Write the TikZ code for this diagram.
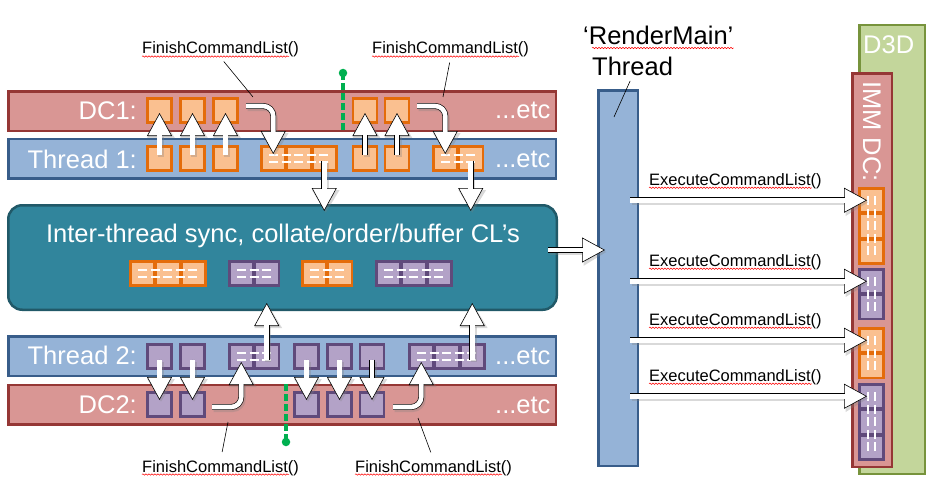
\documentclass[tikz,border=0pt]{standalone}
\usepackage{fontspec}
\setmainfont{Liberation Sans}
\usetikzlibrary{arrows.meta, calc, decorations.pathmorphing}

\definecolor{dcfill}{HTML}{D99694}
\definecolor{dcline}{HTML}{953735}
\definecolor{thfill}{HTML}{95B3D7}
\definecolor{thline}{HTML}{385D8A}
\definecolor{syncfill}{HTML}{31859C}
\definecolor{syncline}{HTML}{215968}
\definecolor{orfill}{HTML}{FAC090}
\definecolor{orline}{HTML}{E46C0A}
\definecolor{pufill}{HTML}{B3A2C7}
\definecolor{puline}{HTML}{604A7B}
\definecolor{dxfill}{HTML}{C3D69B}
\definecolor{dxline}{HTML}{77933C}
\definecolor{marker}{HTML}{00B050}

\newcommand{\barfont}{\fontsize{25.5}{30}\selectfont}
\newcommand{\lblfont}{\fontsize{16.5}{20}\selectfont}

% row / column of command list cells with the white marks on top
\newcommand{\hblock}[5]{%
  \foreach \k in {1,...,#5}
    \node[#2] (#1\k) at ({#3+13.25+(\k-1)*25.5},#4) {};
  \foreach \d in {-3.5,3.5}
    \draw[cldash] ([xshift=9pt,yshift=\d pt]#11.west) -- ([xshift=-9pt,yshift=\d pt]#1#5.east);
}
\newcommand{\vblock}[5]{%
  \foreach \k in {1,...,#5}
    \node[#2] (#1\k) at (#3,{#4+13.25+(\k-1)*25.5}) {};
  \foreach \d in {-3.5,3.5}
    \draw[cldash] ([yshift=-9pt,xshift=\d pt]#11.north) -- ([yshift=9pt,xshift=\d pt]#1#5.south);
}

\tikzset{
  dcbar/.style={draw=dcline, fill=dcfill, line width=2.5pt, minimum width=547.5pt, minimum height=39.5pt, inner sep=0pt},
  thbar/.style={dcbar, draw=thline, fill=thfill},
  syncbox/.style={draw=syncline, fill=syncfill, line width=2.5pt, rounded corners=14pt, minimum width=548.5pt, minimum height=104.5pt},
  rmbar/.style={draw=thline, fill=thfill, line width=2.5pt, minimum width=39.5pt, minimum height=375.5pt},
  dxbox/.style={draw=dxline, fill=dxfill, line width=2.5pt, minimum width=65.5pt, minimum height=448.5pt},
  immbox/.style={draw=dcline, fill=dcfill, line width=2.5pt, minimum width=39.5pt, minimum height=393.5pt},
  orcell/.style={draw=orline, fill=orfill, line width=2.5pt, minimum size=24pt, inner sep=0pt},
  pucell/.style={orcell, draw=puline, fill=pufill},
  cldash/.style={white, line width=2.2pt, dash pattern=on 9pt off 3.5pt},
  bartext/.style={text=white, font=\barfont, inner sep=0pt},
  lbl/.style={font=\lblfont, inner sep=0pt},
  leader/.style={draw=black, line width=0.6pt},
  squig/.style={draw=red, line width=0.5pt, decorate, decoration={snake, amplitude=0.7pt, segment length=3pt}},
  blockarr/.style={draw=black, line width=0.6pt,
    arrows={-Triangle[length=23pt,width=25pt,fill=white,line width=0.6pt]},
    preaction={draw=black!50, opacity=0.3, line width=6pt, arrows={-Triangle[length=23pt,width=26pt]},
      transform canvas={shift={(1.5pt,-2pt)}}},
    postaction={draw=black, double=white, double distance=4.6pt, line width=0.6pt, arrows=-, shorten >=22.2pt}},
  syncmark/.style={draw=marker, line width=3.5pt, dash pattern=on 7pt off 3pt},
  markdot/.style={circle, fill=marker, minimum size=8.5pt, inner sep=0pt},
}

\begin{document}
\begin{tikzpicture}[x=1pt, y=-1pt]
\useasboundingbox (0,0) rectangle (934,487);

% DC1 and Thread 1
\node[dcbar] (dc1) at (282,111) {};
\node[thbar] (th1) at (282,158.5) {};
\node[bartext, anchor=base east] (dc1txt) at (137,119) {DC1:};
\node[bartext, anchor=base east] (th1txt) at (137,168) {Thread 1:};
\node[bartext, anchor=base west] (dc1etc) at (495,118) {...etc};
\node[bartext, anchor=base west] (th1etc) at (495,167) {...etc};

\foreach \x [count=\i] in {159.5,192.5,225.5} {
  \node[orcell] (da\i) at (\x,110.5) {};
  \node[orcell] (ta\i) at (\x,158.5) {};
}
\foreach \x [count=\i] in {365,397} {
  \node[orcell] (db\i) at (\x,110.5) {};
  \node[orcell] (tb\i) at (\x,158.5) {};
}
\hblock{tx}{orcell}{260}{158.5}{3}
\hblock{ty}{orcell}{432}{158.5}{2}

% sync / collate box
\node[syncbox] (sync) at (282.5,257.5) {};
\node[bartext, anchor=base] (synctxt) at (283,242) {Inter-thread sync, collate/order/buffer CL’s};
\hblock{sa}{orcell}{129}{273.5}{3}
\hblock{sb}{pucell}{228}{273.5}{2}
\hblock{sc}{orcell}{301}{273.5}{2}
\hblock{sd}{pucell}{375}{273.5}{3}

% Thread 2 and DC2
\node[thbar] (th2) at (282,356) {};
\node[dcbar] (dc2) at (282,404.5) {};
\node[bartext, anchor=base east] (th2txt) at (137,364) {Thread 2:};
\node[bartext, anchor=base east] (dc2txt) at (137,413) {DC2:};
\node[bartext, anchor=base west] (th2etc) at (495,364) {...etc};
\node[bartext, anchor=base west] (dc2etc) at (495,413) {...etc};

\foreach \x [count=\i] in {159.5,192.5,306.5,339.5,372} {
  \node[pucell] (tc\i) at (\x,356.5) {};
  \node[pucell] (dcc\i) at (\x,404.5) {};
}
\hblock{tz}{pucell}{228}{356.5}{2}
\hblock{tw}{pucell}{408}{356.5}{3}

% render thread, D3D, immediate context
\node[rmbar] (rmain) at (618,278) {};
\node[dxbox] (d3d) at (892,249.5) {};
\node[immbox] (imm) at (872,270) {};
\node[bartext, anchor=base west] (d3dtxt) at (863,53) {D3D};
\node[bartext, rotate=-90] (immtxt) at (872,131.5) {IMM DC:};
\vblock{ia}{orcell}{871.5}{187}{3}
\vblock{ib}{pucell}{871.5}{268}{2}
\vblock{ic}{orcell}{871.5}{327}{2}
\vblock{id}{pucell}{871.5}{383}{3}

\node[bartext, text=black, anchor=base west] (rm1) at (583,45) {‘RenderMain’};
\node[bartext, text=black, anchor=base west] (rm2) at (592,75) {Thread};
\draw[squig] ([xshift=9pt,yshift=-3pt]rm1.base west) -- ([yshift=-3pt]rm1.base east);
\coordinate (rmp) at (614,117);
\draw[leader, shorten <=6pt] (rm2.south) -- (rmp);

% arrows, top half
\foreach \i in {1,2,3}
  \draw[blockarr] ([yshift=4pt]ta\i.center) -- ([yshift=-2.5pt]da\i.center);
\foreach \i in {1,2}
  \draw[blockarr] ([yshift=4pt]tb\i.center) -- ([yshift=-2.5pt]db\i.center);
\coordinate (hk1) at (246,106);
\coordinate (hk2) at (417,106);
\draw[blockarr, rounded corners=10pt] (hk1) -| ([yshift=4.5pt]tx1.center);
\draw[blockarr, rounded corners=10pt] (hk2) -| ([yshift=4.5pt]ty1.center);
\draw[blockarr] ([yshift=-2pt]tx3.center) -- ($(tx3.center |- sync.north)+(0,7)$);
\draw[blockarr] ([yshift=-2pt]ty2.center) -- ($(ty2.center |- sync.north)+(0,7)$);

% arrows, bottom half
\foreach \i in {1,...,5}
  \draw[blockarr] ([yshift=-3pt]tc\i.center) -- ([yshift=4.5pt]dcc\i.center);
\coordinate (hk3) at (212,407);
\coordinate (hk4) at (393,407);
\draw[blockarr, rounded corners=10pt] (hk3) -| ([yshift=-5.5pt]tz1.center);
\draw[blockarr, rounded corners=10pt] (hk4) -| ([yshift=-5.5pt]tw1.center);
\draw[blockarr] ([yshift=-3pt]tz2.center) -- ($(tz2.center |- sync.south)+(0,-8)$);
\draw[blockarr] ([yshift=-3pt]tw3.center) -- ($(tw3.center |- sync.south)+(0,-8)$);

% to the render thread and on to the immediate context
\draw[blockarr] ($(sync.east)+(-10,-7.5)$) -- ($(rmain.west |- sync.east)+(8,-7.5)$);
\foreach \b in {ia,ib,ic,id} {
  \draw[blockarr] ($(rmain.east |- \b1.center)+(-9,0)$) -- ([xshift=-4.5pt]\b1.center);
  \node[lbl, anchor=base west] (ex\b) at ($(rmain.east |- \b1.center)+(10,-15)$) {ExecuteCommandList()};
  \draw[squig] ([yshift=-2.5pt]ex\b.base west) -- ([yshift=-2.5pt,xshift=-10pt]ex\b.base east);
}

% sync points
\node[markdot] (mk1) at (343,73) {};
\coordinate (mk1e) at (343,131);
\draw[syncmark] (mk1.center) -- (mk1e);
\node[markdot] (mk2) at (286,442) {};
\coordinate (mk2e) at (286,384);
\draw[syncmark] (mk2e) -- (mk2.center);

% FinishCommandList labels
\node[lbl, anchor=base west] (fin1) at (142,54) {FinishCommandList()};
\node[lbl, anchor=base west] (fin2) at (372,54) {FinishCommandList()};
\node[lbl, anchor=base west] (fin3) at (142,472) {FinishCommandList()};
\node[lbl, anchor=base west] (fin4) at (355,472) {FinishCommandList()};
\foreach \n in {fin1,fin2,fin3,fin4}
  \draw[squig] ([yshift=-2.5pt]\n.base west) -- ([yshift=-2.5pt,xshift=-10pt]\n.base east);
\coordinate (fp1) at (253,97);
\coordinate (fp2) at (443,97);
\coordinate (fp3) at (228,422);
\coordinate (fp4) at (418,418);
\draw[leader, shorten <=5pt] (fin1.south) -- (fp1);
\draw[leader, shorten <=5pt] (fin2.south) -- (fp2);
\draw[leader, shorten <=8pt] (fin3.north) -- (fp3);
\draw[leader, shorten <=8pt] (fin4.north) -- (fp4);

\end{tikzpicture}
\end{document}
